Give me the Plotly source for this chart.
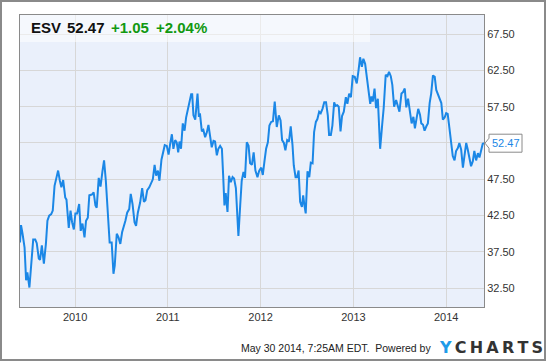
import plotly.graph_objects as go

# ---------------- data ----------------
dates = [
    "2009-05-29", "2009-06-02", "2009-06-08", "2009-06-16", "2009-06-22", "2009-06-27", "2009-07-05",
    "2009-07-12", "2009-07-20", "2009-07-28", "2009-08-03", "2009-08-11", "2009-08-16", "2009-08-23",
    "2009-08-31", "2009-09-08", "2009-09-14", "2009-09-21", "2009-09-29", "2009-10-05", "2009-10-12",
    "2009-10-20", "2009-10-26", "2009-11-02", "2009-11-08", "2009-11-15", "2009-11-23", "2009-11-28",
    "2009-12-07", "2009-12-14", "2009-12-20", "2009-12-27", "2010-01-02", "2010-01-09", "2010-01-17",
    "2010-01-23", "2010-01-30", "2010-02-07", "2010-02-13", "2010-02-20", "2010-02-26", "2010-03-08",
    "2010-03-15", "2010-03-22", "2010-03-27", "2010-04-04", "2010-04-11", "2010-04-19", "2010-04-25",
    "2010-05-02", "2010-05-10", "2010-05-17", "2010-05-25", "2010-06-01", "2010-06-06", "2010-06-14",
    "2010-06-21", "2010-06-28", "2010-07-05", "2010-07-12", "2010-07-18", "2010-07-25", "2010-08-02",
    "2010-08-08", "2010-08-15", "2010-08-23", "2010-08-29", "2010-09-05",
    "2010-09-14", "2010-09-22", "2010-09-29", "2010-10-05", "2010-10-12", "2010-10-20", "2010-10-27",
    "2010-11-03", "2010-11-10", "2010-11-16", "2010-11-23", "2010-11-29", "2010-12-07", "2010-12-14",
    "2010-12-20", "2010-12-28", "2011-01-04", "2011-01-10", "2011-01-17", "2011-01-23", "2011-01-30",
    "2011-02-05", "2011-02-11", "2011-02-16", "2011-02-22", "2011-03-01", "2011-03-08", "2011-03-14",
    "2011-03-21", "2011-03-27", "2011-04-03", "2011-04-07", "2011-04-12", "2011-04-19", "2011-04-24",
    "2011-04-28", "2011-05-03", "2011-05-08", "2011-05-15", "2011-05-21", "2011-05-28", "2011-06-04",
    "2011-06-10", "2011-06-17", "2011-06-23", "2011-06-30", "2011-07-06", "2011-07-13", "2011-07-19",
    "2011-07-26", "2011-08-02", "2011-08-07", "2011-08-12", "2011-08-17", "2011-08-24", "2011-08-30",
    "2011-09-06", "2011-09-13", "2011-09-19", "2011-09-26", "2011-10-01", "2011-10-06", "2011-10-13",
    "2011-10-19", "2011-10-26", "2011-11-01", "2011-11-08", "2011-11-15", "2011-11-21", "2011-11-28",
    "2011-12-05", "2011-12-12",
    "2011-12-20", "2011-12-27", "2012-01-04", "2012-01-10", "2012-01-17", "2012-01-23", "2012-01-30",
    "2012-02-05", "2012-02-12", "2012-02-19", "2012-02-26", "2012-03-05", "2012-03-13", "2012-03-20",
    "2012-03-26", "2012-04-02", "2012-04-08", "2012-04-15", "2012-04-22", "2012-04-29", "2012-05-06",
    "2012-05-11", "2012-05-18", "2012-05-24", "2012-05-30", "2012-06-05", "2012-06-12", "2012-06-17",
    "2012-06-22", "2012-06-27", "2012-07-04", "2012-07-11", "2012-07-17", "2012-07-24", "2012-07-30",
    "2012-08-06", "2012-08-12", "2012-08-19", "2012-08-25", "2012-09-01", "2012-09-08", "2012-09-15",
    "2012-09-22", "2012-09-27", "2012-10-04", "2012-10-10", "2012-10-17", "2012-10-22", "2012-10-29",
    "2012-11-04", "2012-11-11", "2012-11-17", "2012-11-24", "2012-12-02", "2012-12-08", "2012-12-15",
    "2012-12-22", "2012-12-29", "2013-01-06", "2013-01-14", "2013-01-21", "2013-01-27", "2013-02-03",
    "2013-02-09", "2013-02-16", "2013-02-22", "2013-03-01", "2013-03-08",
    "2013-03-13", "2013-03-18", "2013-03-25", "2013-03-31", "2013-04-07", "2013-04-16", "2013-04-24",
    "2013-04-30", "2013-05-08", "2013-05-15", "2013-05-21", "2013-05-28", "2013-06-03", "2013-06-10",
    "2013-06-18", "2013-06-24", "2013-07-01", "2013-07-09", "2013-07-15", "2013-07-22", "2013-07-28",
    "2013-08-04", "2013-08-10", "2013-08-18", "2013-08-25", "2013-08-31", "2013-09-07", "2013-09-13",
    "2013-09-20", "2013-09-25", "2013-10-02", "2013-10-08", "2013-10-15", "2013-10-21", "2013-10-28",
    "2013-11-03", "2013-11-10", "2013-11-17", "2013-11-23", "2013-11-30", "2013-12-06", "2013-12-13",
    "2013-12-19", "2013-12-26", "2014-01-01", "2014-01-07", "2014-01-14", "2014-01-21", "2014-01-27",
    "2014-02-03", "2014-02-09", "2014-02-16", "2014-02-22", "2014-03-01", "2014-03-08", "2014-03-14",
    "2014-03-21", "2014-03-27", "2014-04-03", "2014-04-09", "2014-04-16", "2014-04-22", "2014-04-29",
    "2014-05-06", "2014-05-12", "2014-05-19", "2014-05-25", "2014-05-30",
]

prices = [
    38.8, 41.2, 40.0, 38.1, 33.6, 34.7, 32.6,
    35.4, 39.2, 39.2, 38.7, 36.6, 36.4, 38.4,
    35.9, 38.6, 41.8, 42.5, 42.7, 43.2, 46.6,
    47.8, 48.7, 47.3, 46.4, 47.4, 45.0, 44.7,
    40.8, 43.2, 41.6, 40.6, 42.8, 42.8, 44.1,
    40.4, 41.4, 39.5, 41.8, 42.2, 45.3, 45.4,
    45.7, 43.9, 43.6, 47.7, 46.5, 48.7, 50.1,
    47.3, 43.2, 38.8, 38.8, 34.5, 35.6, 40.0,
    39.5, 38.6, 40.2, 40.9, 41.8, 42.9, 43.4,
    45.5, 44.1, 41.6, 41.1, 42.9,
    44.3, 46.3, 44.4, 44.6, 46.0, 46.4, 47.1,
    47.5, 49.5, 48.0, 48.7, 47.3, 50.2, 51.5,
    52.2, 52.1, 50.9, 52.3, 53.7, 51.7, 52.9,
    52.6, 51.2, 52.7, 51.7, 55.2, 54.2, 56.0,
    57.0, 58.3, 59.2, 59.2, 56.3, 55.7, 57.9,
    59.3, 56.3, 56.4, 54.1, 54.3, 53.3, 54.0,
    55.0, 53.3, 51.9, 52.8, 52.7, 50.8, 51.7,
    52.1, 51.7, 48.0, 43.9, 45.6, 43.0, 48.0,
    47.1, 47.8, 47.6, 46.3, 42.7, 39.7, 43.9,
    47.3, 48.5, 47.7, 52.6, 52.1, 49.7, 49.5,
    51.2, 48.7,
    47.8, 48.7, 49.1, 48.1, 50.1, 51.7, 52.6,
    54.9, 55.4, 55.5, 58.2, 54.7, 56.3, 55.6,
    52.9, 52.5, 51.5, 52.9, 52.7, 54.8, 52.2,
    49.4, 47.8, 47.8, 48.7, 44.4, 43.7, 45.3,
    43.9, 42.8, 48.6, 47.8, 49.8, 49.7, 54.0,
    55.4, 55.8, 56.8, 56.6, 57.2, 58.1, 58.1,
    56.3, 53.6, 53.6, 54.9, 58.1, 57.6, 57.7,
    57.5, 54.1, 56.2, 56.8, 58.8, 57.9, 59.3,
    58.8, 61.7, 61.6, 60.7, 62.5, 64.3, 63.0,
    64.1, 63.4, 61.6, 59.5, 57.9,
    58.9, 58.2, 60.0, 57.3, 58.6, 51.7, 55.0,
    57.3, 61.9, 61.7, 62.3, 61.7, 60.5, 57.5,
    58.4, 57.8, 56.8, 59.3, 59.5, 60.0, 57.4,
    58.6, 57.0, 55.2, 56.1, 54.5, 56.0, 57.2,
    56.4, 55.2, 55.0, 54.2, 54.8, 55.2, 58.0,
    59.3, 61.8, 61.6, 59.8, 59.1, 58.6, 58.0,
    55.7, 56.0, 56.6, 56.5, 54.5, 52.5, 50.7,
    50.1, 51.4, 51.8, 52.5, 51.6, 49.1, 50.7,
    52.5, 51.6, 50.5, 49.3, 50.0, 51.4, 50.1,
    51.1, 50.5, 51.6, 52.4, 52.47,
]

ticker = "ESV"
last_price = "52.47"
change_abs = "+1.05"
change_pct = "+2.04%"
year_ticks = ["2010-01-01", "2011-01-01", "2012-01-01", "2013-01-01", "2014-01-01"]
year_labels = ["2010", "2011", "2012", "2013", "2014"]
price_ticks = [32.5, 37.5, 42.5, 47.5, 52.5, 57.5, 62.5, 67.5]
# the 52.50 label is hidden behind the last-price marker in the original
price_labels = ["32.50", "37.50", "42.50", "47.50", "", "57.50", "62.50", "67.50"]
footer_text = "May 30 2014, 7:25AM EDT.  Powered by"

# ---------------- layout helpers ----------------
W, H = 550, 362
L, R, T, B = 20, 66, 15, 55
PW, PH = W - L - R, H - T - B


def px_x(x):
    return (x - L) / PW


def px_y(y):
    return (H - B - y) / PH


BLUE = "#1B87E6"
GREEN = "#119911"
FONT = "Liberation Sans, Arial, sans-serif"

fig = go.Figure()
fig.add_trace(go.Scatter(
    x=dates, y=prices, mode="lines",
    line=dict(color=BLUE, width=2),
    hoverinfo="skip", showlegend=False,
))

shapes = [
    # header translucent band
    dict(type="rect", xref="paper", yref="paper",
         x0=px_x(20), x1=px_x(370), y0=px_y(42), y1=px_y(15),
         fillcolor="rgba(255,255,255,0.5)", line=dict(width=0), layer="above"),
    # outer frame
    dict(type="rect", xref="paper", yref="paper",
         x0=px_x(1), x1=px_x(545), y0=px_y(360), y1=px_y(1),
         fillcolor="rgba(0,0,0,0)", line=dict(color="#8A8A8A", width=2), layer="above"),
    # last price label with pointer
    dict(type="path", xref="paper", yref="y",
         xsizemode="pixel", xanchor=1, ysizemode="pixel", yanchor=prices[-1],
         path="M 1 0 L 5 5 L 5 9 L 38 9 L 38 -9 L 5 -9 L 5 -5 Z",
         fillcolor="white", line=dict(color="#8A8A8A", width=1), layer="above"),
]

annotations = [
    dict(text="<b>%s</b>" % ticker, x=px_x(29), y=px_y(28), xref="paper", yref="paper",
         xanchor="left", yanchor="middle", showarrow=False,
         font=dict(family=FONT, size=15, color="#111111")),
    dict(text="<b>%s</b>" % last_price, x=px_x(65), y=px_y(28), xref="paper", yref="paper",
         xanchor="left", yanchor="middle", showarrow=False,
         font=dict(family=FONT, size=15, color="#111111")),
    dict(text="<b>%s</b>" % change_abs, x=px_x(109), y=px_y(28), xref="paper", yref="paper",
         xanchor="left", yanchor="middle", showarrow=False,
         font=dict(family=FONT, size=15, color=GREEN)),
    dict(text="<b>%s</b>" % change_pct, x=px_x(154), y=px_y(28), xref="paper", yref="paper",
         xanchor="left", yanchor="middle", showarrow=False,
         font=dict(family=FONT, size=15, color=GREEN)),
    dict(text=last_price, x=px_x(506), y=prices[-1], xref="paper", yref="y",
         xanchor="center", yanchor="middle", showarrow=False,
         font=dict(family=FONT, size=11, color=BLUE)),
    dict(text=footer_text, x=px_x(433), y=px_y(348), xref="paper", yref="paper",
         xanchor="right", yanchor="middle", showarrow=False,
         font=dict(family=FONT, size=10.5, color="#222222")),
    dict(text="<span style='color:#1E9BE9'>Y</span>\u2009C\u2009H\u2009A\u2009R\u2009T\u2009S",
         x=px_x(437), y=px_y(347), xref="paper", yref="paper",
         xanchor="left", yanchor="middle", showarrow=False,
         font=dict(family="DejaVu Sans, sans-serif", size=16, color="#333333", weight="bold")),
]

fig.update_layout(
    width=W, height=H, autosize=False,
    margin=dict(l=L, r=R, t=T, b=B, pad=0),
    paper_bgcolor="white", plot_bgcolor="#EAF0FB",
    shapes=shapes, annotations=annotations,
    showlegend=False,
    xaxis=dict(
        type="date", range=[dates[0], dates[-1]],
        tickvals=year_ticks, ticktext=year_labels,
        showgrid=True, gridcolor="#D7D7D7", gridwidth=1,
        showline=True, mirror=True, linecolor="#8A8A8A", linewidth=1,
        ticks="", zeroline=False,
        tickfont=dict(family=FONT, size=11, color="#333333"),
    ),
    yaxis=dict(
        side="right", range=[29.92, 70.12],
        tickvals=price_ticks, ticktext=price_labels,
        showgrid=True, gridcolor="#D7D7D7", gridwidth=1,
        showline=True, mirror=True, linecolor="#8A8A8A", linewidth=1,
        ticks="", zeroline=False,
        tickfont=dict(family=FONT, size=11, color="#333333"),
    ),
)

fig.write_html("out.html")
